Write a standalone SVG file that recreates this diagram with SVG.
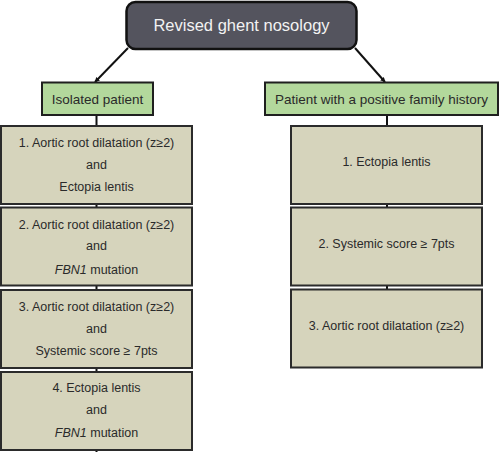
<svg xmlns="http://www.w3.org/2000/svg" width="500" height="452" viewBox="0 0 500 452">
<style>
.lbl{font-family:"Liberation Sans",Arial,sans-serif;fill:#2a2a2a;text-anchor:middle}
.c{font-size:12.5px}
.crit{fill:#d6d4bc;stroke:#2b2b2b;stroke-width:2}
.grp{fill:#b3d89c;stroke:#1f1f1f;stroke-width:2}
.conn{stroke:#111;stroke-width:2;fill:none}
</style>
<defs>
<marker id="ah" viewBox="0 0 10 10" refX="9" refY="5" markerWidth="5" markerHeight="5" orient="auto" markerUnits="userSpaceOnUse">
<path d="M0,0 L10,5 L0,10 z" fill="#111"/>
</marker>
</defs>
<rect width="500" height="452" fill="#fff"/>
<g id="connectors">
<line class="conn" x1="128" y1="48" x2="95" y2="82" marker-end="url(#ah)"/>
<line class="conn" x1="355" y1="48" x2="385" y2="82" marker-end="url(#ah)"/>
<line class="conn" x1="96.5" y1="115" x2="96.5" y2="452"/>
<line class="conn" x1="387" y1="115" x2="387" y2="290"/>
</g>
<g id="root">
<rect x="126.5" y="2" width="230" height="47" rx="9" fill="#54545e" stroke="#111" stroke-width="2.5"/>
<text class="lbl" x="241.5" y="31" font-size="16.5" style="fill:#f2f2f2">Revised ghent nosology</text>
</g>
<g id="isolated">
<rect class="grp" x="42" y="82.5" width="111" height="32.5"/>
<text class="lbl" x="97.5" y="104" font-size="13.5">Isolated patient</text>
</g>
<g id="family">
<rect class="grp" x="265" y="82.5" width="233" height="32.5"/>
<text class="lbl" x="381.5" y="104" font-size="13.5">Patient with a positive family history</text>
</g>
<g id="iso1">
<rect class="crit" x="1" y="126" width="191" height="78"/>
<text class="lbl c" x="96.5" y="146.5">1. Aortic root dilatation (z≥2)</text>
<text class="lbl c" x="96.5" y="168.5">and</text>
<text class="lbl c" x="96.5" y="191">Ectopia lentis</text>
</g>
<g id="iso2">
<rect class="crit" x="1" y="207.5" width="191" height="78"/>
<text class="lbl c" x="96.5" y="228.5">2. Aortic root dilatation (z≥2)</text>
<text class="lbl c" x="96.5" y="250">and</text>
<text class="lbl c" x="96.5" y="273.5"><tspan font-style="italic">FBN1</tspan> mutation</text>
</g>
<g id="iso3">
<rect class="crit" x="1" y="290" width="191" height="78"/>
<text class="lbl c" x="96.5" y="310.5">3. Aortic root dilatation (z≥2)</text>
<text class="lbl c" x="96.5" y="332.5">and</text>
<text class="lbl c" x="96.5" y="355">Systemic score ≥ 7pts</text>
</g>
<g id="iso4">
<rect class="crit" x="1" y="372" width="191" height="78"/>
<text class="lbl c" x="96.5" y="392">4. Ectopia lentis</text>
<text class="lbl c" x="96.5" y="414">and</text>
<text class="lbl c" x="96.5" y="437"><tspan font-style="italic">FBN1</tspan> mutation</text>
</g>
<g id="fam1">
<rect class="crit" x="291" y="126" width="191" height="78"/>
<text class="lbl c" x="386.5" y="165.5">1. Ectopia lentis</text>
</g>
<g id="fam2">
<rect class="crit" x="291" y="207.5" width="191" height="78"/>
<text class="lbl c" x="386.5" y="247.5">2. Systemic score ≥ 7pts</text>
</g>
<g id="fam3">
<rect class="crit" x="291" y="289.5" width="191" height="78"/>
<text class="lbl c" x="386.5" y="330">3. Aortic root dilatation (z≥2)</text>
</g>
</svg>
